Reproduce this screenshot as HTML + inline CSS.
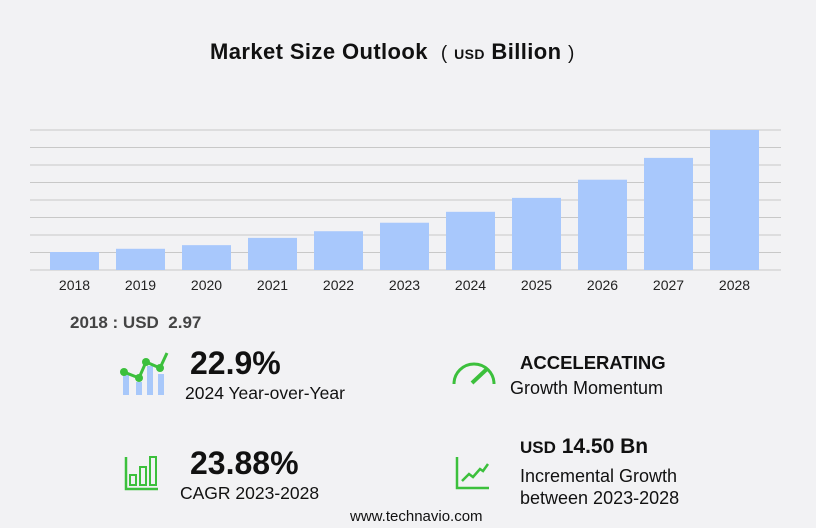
<!DOCTYPE html>
<html><head><meta charset="utf-8"><style>
body{margin:0;width:816px;height:528px;background:#f2f2f4;font-family:"Liberation Sans",sans-serif;position:relative;overflow:hidden}
.t{position:absolute;white-space:nowrap;color:#111}
</style></head><body>
<div class="t" style="left:210px;top:39px;font-size:22px;font-weight:bold;letter-spacing:0.4px">Market Size Outlook&nbsp; <span style="font-weight:normal;font-size:19px">(</span> <span style="font-size:14px">USD</span> Billion <span style="font-weight:normal;font-size:19px">)</span></div>
<svg id="chart" width="816" height="300" style="position:absolute;left:0;top:0"></svg>
<div class="t" style="left:70px;top:313px;font-size:17px;font-weight:bold;color:#444">2018 : USD&nbsp; 2.97</div>
<svg width="60" height="50" style="position:absolute;left:118px;top:350px">
<rect x="5" y="25" width="6" height="20" fill="#a8c8fa"/><rect x="18" y="32" width="6" height="13" fill="#a8c8fa"/><rect x="29" y="16" width="6" height="29" fill="#a8c8fa"/><rect x="40" y="24" width="6" height="21" fill="#a8c8fa"/>
<polyline points="6,22 21,28 28,12 42,18 49,3" fill="none" stroke="#3cc03c" stroke-width="3"/><circle cx="6" cy="22" r="4" fill="#3cc03c"/><circle cx="21" cy="28" r="4" fill="#3cc03c"/><circle cx="28" cy="12" r="4" fill="#3cc03c"/><circle cx="42" cy="18" r="4" fill="#3cc03c"/></svg>
<div class="t" style="left:190px;top:345px;font-size:32px;font-weight:bold">22.9%</div>
<div class="t" style="left:185px;top:383px;font-size:17.5px">2024 Year-over-Year</div>
<svg width="50" height="35" style="position:absolute;left:450px;top:358px">
<path d="M4,26 A20,20 0 0 1 44,26" fill="none" stroke="#3cc03c" stroke-width="3"/><line x1="22" y1="25" x2="38" y2="10" stroke="#3cc03c" stroke-width="4"/></svg>
<div class="t" style="left:520px;top:352px;font-size:18.5px;font-weight:bold">ACCELERATING</div>
<div class="t" style="left:510px;top:378px;font-size:18px">Growth Momentum</div>
<svg width="40" height="40" style="position:absolute;left:124px;top:455px">
<path d="M2,2 V34 H34" fill="none" stroke="#3cc03c" stroke-width="2.5"/><rect x="6" y="20" width="6" height="10" fill="none" stroke="#3cc03c" stroke-width="2"/><rect x="16" y="12" width="6" height="18" fill="none" stroke="#3cc03c" stroke-width="2"/><rect x="26" y="2" width="6" height="28" fill="none" stroke="#3cc03c" stroke-width="2"/></svg>
<div class="t" style="left:190px;top:445px;font-size:32px;font-weight:bold">23.88%</div>
<div class="t" style="left:180px;top:483px;font-size:17.5px">CAGR 2023-2028</div>
<svg width="40" height="40" style="position:absolute;left:455px;top:455px">
<path d="M2,2 V33 H34" fill="none" stroke="#3cc03c" stroke-width="2.5"/><polyline points="7,26 14,19 18,22 25,14 28,16 33,9" fill="none" stroke="#3cc03c" stroke-width="2.5"/></svg>
<div class="t" style="left:520px;top:435px;font-size:21px;font-weight:bold"><span style="font-size:17px">USD</span> 14.50 Bn</div>
<div class="t" style="left:520px;top:465px;font-size:18px;line-height:22px">Incremental Growth<br>between 2023-2028</div>
<div class="t" style="left:350px;top:508px;font-size:15px">www.technavio.com</div>
<script>
const years=["2018","2019","2020","2021","2022","2023","2024","2025","2026","2027","2028"];
const values=[2.97,3.5,4.1,5.3,6.4,7.8,9.6,11.9,14.9,18.5,23.1];
const svg=document.getElementById('chart');const NS='http://www.w3.org/2000/svg';
const y0=270,yTop=130,vmax=23.1;
const ys=v=>y0-(v/vmax)*(y0-yTop);
const xs=i=>50+i*66;
for(let k=0;k<=8;k++){const l=document.createElementNS(NS,'line');const y=y0-k*(y0-yTop)/8;
l.setAttribute('x1',30);l.setAttribute('x2',781);l.setAttribute('y1',y);l.setAttribute('y2',y);l.setAttribute('stroke','#c8c8c8');l.setAttribute('stroke-width','1');


svg.appendChild(l);}
values.forEach((v,i)=>{const r=document.createElementNS(NS,'rect');r.setAttribute('x',xs(i));r.setAttribute('y',ys(v));r.setAttribute('width',49);r.setAttribute('height',y0-ys(v));r.setAttribute('fill','#a8c8fc');


svg.appendChild(r);
const t=document.createElementNS(NS,'text');t.setAttribute('x',xs(i)+24.5);t.setAttribute('y',290);t.setAttribute('text-anchor','middle');t.setAttribute('font-size','14');t.setAttribute('fill','#222');t.setAttribute('font-family','Liberation Sans, sans-serif');t.textContent=years[i];


svg.appendChild(t);});
</script>
</body></html>
